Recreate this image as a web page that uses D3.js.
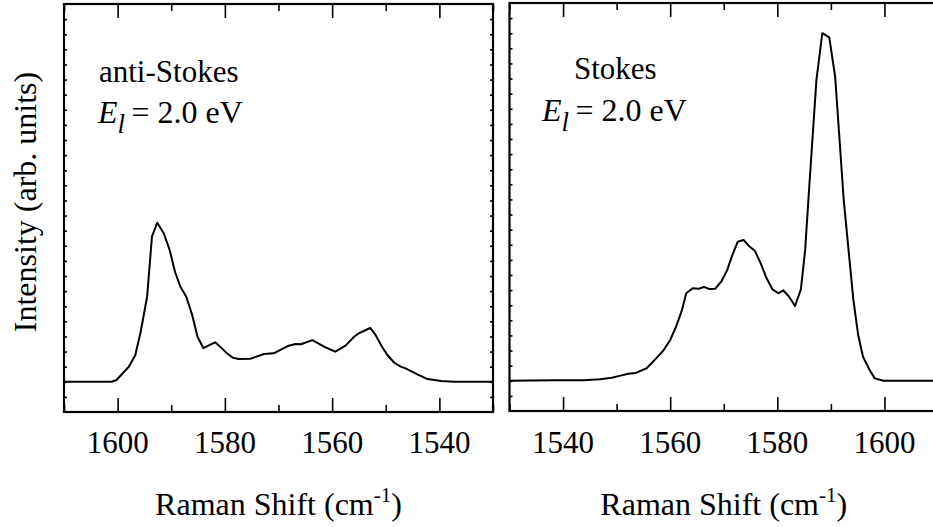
<!DOCTYPE html>
<html>
<head>
<meta charset="utf-8">
<script src="https://cdn.jsdelivr.net/npm/d3@7"></script>
<style>
  body { margin: 0; background: #fff; }
  svg { display: block; }
</style>
</head>
<body>
<div id="chart"></div>
<script>
// anti-Stokes spectrum (shift in cm-1, intensity in arb. units)
const antiStokesShift = [1610, 1601.1, 1600.2, 1597.9, 1596.7, 1595.7, 1594.5, 1593.6, 1592.6, 1591.4,
  1590.3, 1589.3, 1588.3, 1587.2, 1586.1, 1585.1, 1584.0, 1582.9, 1581.8, 1580.7,
  1579.6, 1578.5, 1577.4, 1575.2, 1572.7, 1570.9, 1568.1, 1566.8, 1565.8, 1563.7,
  1561.5, 1559.4, 1557.5, 1555.9, 1555.0, 1552.9, 1551.9, 1550.7, 1549.7, 1548.4,
  1547.2, 1546.3, 1544.1, 1542.2, 1539.7, 1537.2, 1530]
const antiStokesIntensity = [0, 0, 0.12, 1.0, 1.77, 3.31, 5.63, 9.6, 10.53, 9.83,
  8.72, 7.28, 6.29, 5.63, 4.42, 2.98, 2.22, 2.43, 2.61, 2.26,
  1.88, 1.59, 1.51, 1.53, 1.84, 1.88, 2.39, 2.5, 2.48, 2.76,
  2.32, 1.99, 2.39, 2.98, 3.21, 3.56, 3.1, 2.32, 1.77, 1.26,
  1.0, 0.89, 0.49, 0.18, 0.05, 0, 0]

// Stokes spectrum
const stokesShift = [1530, 1538.2, 1543.8, 1546.9, 1549.1, 1550.7, 1552.2, 1553.5, 1555.6, 1557.2,
  1558.7, 1560.0, 1561.1, 1562.2, 1563.0, 1564.2, 1565.3, 1566.3, 1567.3, 1568.4,
  1569.6, 1570.6, 1571.6, 1572.6, 1573.7, 1574.7, 1575.8, 1576.9, 1578.0, 1579.1,
  1580.2, 1581.1, 1582.2, 1583.3, 1584.4, 1585.2, 1585.8, 1587.3, 1588.4, 1589.7,
  1590.8, 1592.4, 1593.6, 1594.2, 1595.1, 1596.0, 1597.3, 1598.2, 1599.8, 1610]
const stokesIntensity = [0, 0.03, 0.03, 0.1, 0.2, 0.34, 0.47, 0.51, 0.83, 1.42,
  1.99, 2.7, 3.58, 4.68, 5.79, 6.12, 6.09, 6.21, 6.07, 6.09,
  6.6, 7.29, 8.32, 9.2, 9.32, 8.92, 8.61, 7.77, 6.78, 6.05,
  5.79, 5.99, 5.56, 4.95, 6.05, 8.66, 11.96, 19.9, 23.0, 22.73,
  20.12, 11.96, 7.55, 5.35, 3.03, 1.59, 0.67, 0.16, 0, 0]

const majorTicks = [1540, 1560, 1580, 1600]
const minorTicks = [1530, 1550, 1570, 1590, 1610]
const yTicks = d3.range(-1, 25)

const width = 933
const height = 527
const serif = "'Liberation Serif', Tinos, 'Times New Roman', Times, 'DejaVu Serif', serif"

const svg = d3.select('#chart')
  .append('svg')
    .attr('width', width)
    .attr('height', height)
    .attr('font-family', serif)
    .style('font-family', serif)

const panels = [
  { shift: antiStokesShift, intensity: antiStokesIntensity, domain: [1610, 1530],
    left: 64, right: 493, top: 4, bottom: 412,
    title: 'anti-Stokes', titleX: 99, titleY: 82, eX: 98, eY: 123 },
  { shift: stokesShift, intensity: stokesIntensity, domain: [1530, 1610],
    left: 509.5, right: 938, top: 3, bottom: 411,
    title: 'Stokes', titleX: 574, titleY: 79, eX: 542, eY: 121 }
]

panels.forEach(p => {
  const x = d3.scaleLinear().domain(p.domain).range([p.left, p.right])
  const y = d3.scaleLinear().domain([-2, 25]).range([p.bottom, p.top])
  const g = svg.append('g')

  // x ticks, bottom and top, pointing inward
  const addX = (axisFn, ypos, ticks, size) => {
    g.append('g')
      .attr('transform', `translate(0, ${ypos})`)
      .call(axisFn(x).tickValues(ticks).tickSize(size).tickFormat(''))
      .call(a => a.select('.domain').remove())
      .call(a => a.selectAll('line').attr('stroke', '#000').attr('stroke-width', 1.6))
  }
  addX(d3.axisBottom, p.bottom, majorTicks, -14)
  addX(d3.axisBottom, p.bottom, minorTicks, -7)
  addX(d3.axisTop, p.top, majorTicks, -14)
  addX(d3.axisTop, p.top, minorTicks, -7)

  // y ticks on both sides
  const addY = (axisFn, xpos) => {
    g.append('g')
      .attr('transform', `translate(${xpos}, 0)`)
      .call(axisFn(y).tickValues(yTicks).tickSize(-3).tickFormat(''))
      .call(a => a.select('.domain').remove())
      .call(a => a.selectAll('line').attr('stroke', '#000').attr('stroke-width', 1.6))
  }
  addY(d3.axisLeft, p.left)
  addY(d3.axisRight, p.right)

  // frame
  g.append('rect')
    .attr('x', p.left)
    .attr('y', p.top)
    .attr('width', p.right - p.left)
    .attr('height', p.bottom - p.top)
    .attr('fill', 'none')
    .attr('stroke', '#000')
    .attr('stroke-width', 2.2)

  // tick labels
  g.selectAll('.tl')
    .data(majorTicks)
    .enter()
    .append('text')
      .attr('x', d => x(d))
      .attr('y', 453)
      .attr('text-anchor', 'middle')
      .style('font-family', serif)
      .style('font-size', '31px')
      .text(d => d)

  // spectrum
  const line = d3.line()
    .x(d => x(d[0]))
    .y(d => y(d[1]))
  g.append('path')
    .datum(p.shift.map((s, i) => [s, p.intensity[i]]))
    .attr('d', line)
    .attr('fill', 'none')
    .attr('stroke', '#000')
    .attr('stroke-width', 2)
    .attr('stroke-linejoin', 'round')

  // annotations
  g.append('text')
    .attr('x', p.titleX)
    .attr('y', p.titleY)
    .style('font-family', serif)
    .style('font-size', '31px')
    .text(p.title)

  const e = g.append('text')
    .attr('x', p.eX)
    .attr('y', p.eY)
    .style('font-family', serif)
    .style('font-size', '32px')
  e.append('tspan').style('font-style', 'italic').text('E')
  e.append('tspan').style('font-style', 'italic').style('font-size', '27px')
    .attr('dy', 10).text('l')
  e.append('tspan').attr('dy', -10).text('\u2009= 2.0 eV')

  // x axis title
  const t = g.append('text')
    .attr('x', (p.left + p.right) / 2)
    .attr('y', 515)
    .attr('text-anchor', 'middle')
    .style('font-family', serif)
    .style('font-size', '32px')
  t.append('tspan').text('Raman Shift (cm')
  t.append('tspan').style('font-size', '21px').attr('dy', -13).text('-1')
  t.append('tspan').attr('dy', 13).text(')')
})

// y axis title
svg.append('text')
  .attr('transform', 'translate(36, 202) rotate(-90)')
  .attr('text-anchor', 'middle')
  .style('font-family', serif)
  .style('font-size', '32px')
  .text('Intensity (arb. units)')
</script>
</body>
</html>
